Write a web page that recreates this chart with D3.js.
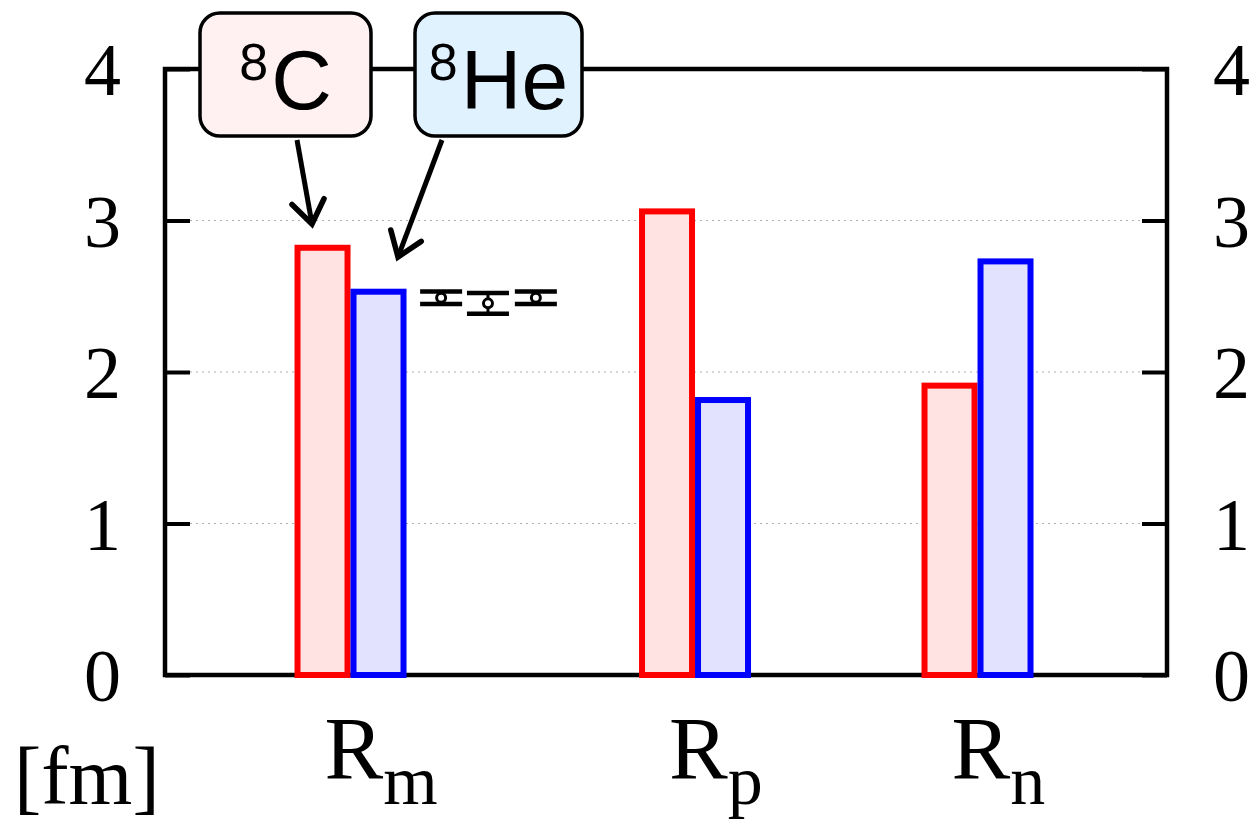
<!DOCTYPE html>
<html><head><meta charset="utf-8">
<script src="https://cdn.jsdelivr.net/npm/d3@7"></script>
<style>html,body{margin:0;padding:0;background:#fff;overflow:hidden}</style>
</head><body>
<svg id="c" width="1249" height="824"></svg>
<script>
// ---- data ----
const categories = ["m", "p", "n"];          // R_m, R_p, R_n
const categoryPos = [1.0, 2.0, 2.82];
const c8Values = [2.82, 3.06, 1.91];          // 8C (red)
const he8Values = [2.53, 1.815, 2.73];        // 8He (blue)
const expPos = [1.263, 1.399, 1.538];         // experimental points near R_m
const expValues = [2.49, 2.453, 2.49];
const expErrors = [0.041, 0.069, 0.041];
const yTicks = [0, 1, 2, 3, 4];
const boxLabels = [{sup: "8", main: "C"}, {sup: "8", main: "He"}];

// ---- layout ----
const svg = d3.select("#c");
const L = 165, R = 1167, T = 69, B = 675;
const x = d3.scaleLinear().domain([0.4615, 3.37]).range([L, R]);
const y = d3.scaleLinear().domain([0, 4]).range([B, T]);
const serif = "'Liberation Serif','Times New Roman',serif";
const sans = "'Liberation Sans',Arial,sans-serif";

// grid
svg.append("g").selectAll("line").data(yTicks.filter(d => d > 0 && d < 4)).join("line")
  .attr("x1", L + 25).attr("x2", R - 25)
  .attr("y1", d => y(d)).attr("y2", d => y(d))
  .attr("stroke", "#b0b0b0").attr("stroke-width", 1.2).attr("stroke-dasharray", "2,4");

// frame
svg.append("rect").attr("x", L).attr("y", T).attr("width", R - L).attr("height", B - T)
  .attr("fill", "none").attr("stroke", "#000").attr("stroke-width", 4.5);

// ticks inward left & right via axes
const axL = d3.axisRight(y).tickValues(yTicks).tickSize(25).tickFormat("");
const axR = d3.axisLeft(y).tickValues(yTicks).tickSize(25).tickFormat("");
const gL = svg.append("g").attr("transform", `translate(${L},0)`).call(axL);
const gR = svg.append("g").attr("transform", `translate(${R},0)`).call(axR);
[gL, gR].forEach(g => {
  g.select(".domain").remove();
  g.selectAll("line").attr("stroke", "#000").attr("stroke-width", 4);
});

// tick labels
svg.append("g").selectAll("text").data(yTicks).join("text")
  .attr("x", 121).attr("y", d => y(d) + 26).attr("text-anchor", "end")
  .attr("font-family", serif).attr("font-size", 74).text(d => d);
svg.append("g").selectAll("text").data(yTicks).join("text")
  .attr("x", 1213).attr("y", d => y(d) + 26).attr("text-anchor", "start")
  .attr("font-family", serif).attr("font-size", 74).text(d => d);

// bars
const bw = 50;
svg.append("g").selectAll("rect").data(c8Values).join("rect")
  .attr("x", (d, i) => x(categoryPos[i]) - 3 - bw).attr("width", bw)
  .attr("y", d => y(d)).attr("height", d => y(0) - y(d))
  .attr("fill", "#ffe2e2").attr("stroke", "#ff0000").attr("stroke-width", 6);
svg.append("g").selectAll("rect").data(he8Values).join("rect")
  .attr("x", (d, i) => x(categoryPos[i]) + 3).attr("width", bw)
  .attr("y", d => y(d)).attr("height", d => y(0) - y(d))
  .attr("fill", "#e2e2ff").attr("stroke", "#0000ff").attr("stroke-width", 6);

// experimental error bars
const eg = svg.append("g").selectAll("g").data(expValues).join("g");
eg.append("line").attr("x1", (d, i) => x(expPos[i])).attr("x2", (d, i) => x(expPos[i]))
  .attr("y1", (d, i) => y(d + expErrors[i])).attr("y2", (d, i) => y(d - expErrors[i]))
  .attr("stroke", "#000").attr("stroke-width", 3);
[1, -1].forEach(s => {
  eg.append("line").attr("x1", (d, i) => x(expPos[i]) - 21).attr("x2", (d, i) => x(expPos[i]) + 21)
    .attr("y1", (d, i) => y(d + s * expErrors[i])).attr("y2", (d, i) => y(d + s * expErrors[i]))
    .attr("stroke", "#000").attr("stroke-width", 4.5);
});
eg.append("circle").attr("cx", (d, i) => x(expPos[i])).attr("cy", d => y(d)).attr("r", 4.5)
  .attr("fill", "#fff").attr("stroke", "#000").attr("stroke-width", 3);

// x category labels
const xl = svg.append("g").selectAll("text").data(categories).join("text")
  .attr("x", (d, i) => x(categoryPos[i]) - 26).attr("y", 778)
  .attr("font-family", serif).attr("font-size", 88);
xl.append("tspan").text("R");
xl.append("tspan").attr("dy", 26).attr("font-size", 70).text(d => d);

// unit label
svg.append("text").attr("x", 14).attr("y", 804).attr("font-family", serif)
  .attr("font-size", 82).text("[fm]");

// arrows (annotations)
const arrows = [
  {x1: 297, y1: 140, x2: 312, y2: 224},
  {x1: 442, y1: 140, x2: 398, y2: 257}
];
arrows.forEach(a => {
  svg.append("line").attr("x1", a.x1).attr("y1", a.y1).attr("x2", a.x2).attr("y2", a.y2)
    .attr("stroke", "#000").attr("stroke-width", 5);
  const ang = Math.atan2(a.y2 - a.y1, a.x2 - a.x1);
  const len = 28, spread = 0.62;
  const p1 = [a.x2 - len * Math.cos(ang - spread), a.y2 - len * Math.sin(ang - spread)];
  const p2 = [a.x2 - len * Math.cos(ang + spread), a.y2 - len * Math.sin(ang + spread)];
  svg.append("path").attr("d", `M${p1}L${a.x2},${a.y2}L${p2}`)
    .attr("fill", "none").attr("stroke", "#000").attr("stroke-width", 5.5)
    .attr("stroke-linejoin", "miter").attr("stroke-linecap", "round");
});

// label boxes
const boxes = [
  {x: 200, y: 13, w: 171, h: 123, fill: "#fff1f1"},
  {x: 415, y: 13, w: 167, h: 123, fill: "#e1f2ff"}
];
boxes.forEach((b, i) => {
  svg.append("rect").attr("x", b.x).attr("y", b.y).attr("width", b.w).attr("height", b.h)
    .attr("rx", 20).attr("fill", b.fill).attr("stroke", "#000").attr("stroke-width", 3.5);
  const t = svg.append("text").attr("x", b.x + b.w / 2).attr("y", 109).attr("text-anchor", "middle")
    .attr("font-family", sans).attr("font-size", 84);
  t.append("tspan").attr("font-size", 52).attr("dy", -29).text(boxLabels[i].sup);
  t.append("tspan").attr("dy", 29).attr("dx", 3).text(boxLabels[i].main);
});
</script>
</body></html>
